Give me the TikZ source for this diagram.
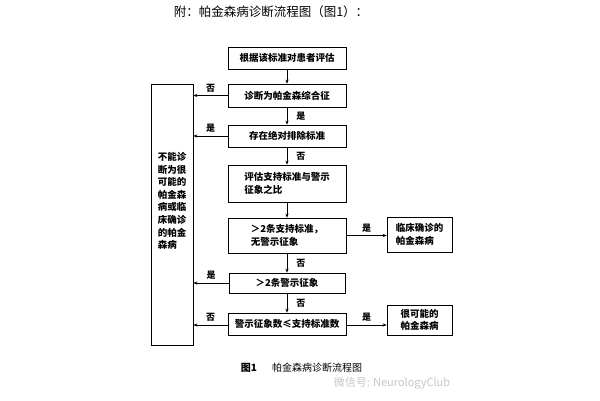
\documentclass[tikz,border=0pt]{standalone}
\usepackage{fontspec}
\newfontfamily\cjk{Noto Sans CJK SC}
\usetikzlibrary{arrows.meta}
\begin{document}
\begin{tikzpicture}[x=1pt,y=-1pt,
  font=\cjk\bfseries\fontsize{9.5}{12.6}\selectfont,
  box/.style={draw, line width=0.7pt, inner sep=0pt, minimum width=118pt, minimum height=22pt, align=left},
  arr/.style={-{Stealth[length=4pt,width=3.2pt]}, line width=0.6pt},
  lab/.style={font=\cjk\bfseries\fontsize{9}{10}\selectfont, inner sep=1pt}]
\useasboundingbox[fill=white] (0,0) rectangle (600,400);
\node[font=\cjk\fontsize{12.5}{14}\selectfont] (title) at (271,12) {附：帕金森病诊断流程图（图1）：};
\node[box] (b1) at (287,58) {根据该标准对患者评估};
\node[box, minimum height=23pt] (b2) at (287,95.5) {诊断为帕金森综合征};
\node[box] (b3) at (287,136) {存在绝对排除标准};
\node[box, minimum height=37pt] (b4) at (287,183.5) {评估支持标准与警示\\征象之比};
\node[box, minimum height=35pt] (b5) at (287,235.5) {＞2条支持标准，\\无警示征象};
\node[box, minimum width=116pt, minimum height=20pt] (b7) at (287,283) {＞2条警示征象};
\node[box] (b8) at (287,324) {警示征象数≤支持标准数};
\node[box, line width=0.8pt, minimum width=42pt, minimum height=261pt] (L) at (172,214.5) {};
\node[align=left, inner sep=0pt] (Lt) at (172,201) {不能诊\\断为很\\可能的\\帕金森\\病或临\\床确诊\\的帕金\\森病};
\node[box, minimum width=65pt, minimum height=35pt] (R1) at (419.5,234.5) {临床确诊的\\帕金森病};
\node[box, minimum width=65pt, minimum height=30pt] (R2) at (419.5,320) {很可能的\\帕金森病};
% vertical arrows
\draw[arr] (b1) -- (b2);
\draw[arr] (b2) -- node[lab, right=8pt] {是} (b3);
\draw[arr] (b3) -- node[lab, right=8pt] {否} (b4);
\draw[arr] (b4) -- (b5);
\draw[arr] (b5) -- node[lab, right=8pt] {否} (b7);
\draw[arr] (b7) -- node[lab, right=8pt] {否} (b8);
% left arrows
\draw[arr] (b2.west) -- node[lab, above=2pt] {否} (b2.west -| L.east);
\draw[arr] (b3.west) -- node[lab, above=2pt] {是} (b3.west -| L.east);
\draw[arr] (b7.west) -- node[lab, above=2pt] {是} (b7.west -| L.east);
\draw[arr] ([yshift=-1pt]b8.west) -- node[lab, above=2pt] {否} ([yshift=-1pt]b8.west -| L.east);
% right arrows
\draw[arr] (b5.east) -- node[lab, above=2pt] {是} (b5.east -| R1.west);
\draw[arr] ([yshift=-1pt]b8.east) -- node[lab, above=2pt] {是} ([yshift=-1pt]b8.east -| R2.west);
% caption
\node[font=\cjk\bfseries\fontsize{10}{12}\selectfont] (cap1) at (249,368) {图1};
\node[font=\cjk\fontsize{10}{12}\selectfont] (cap2) at (317,368) {帕金森病诊断流程图};
\node[font=\cjk\fontsize{11}{12}\selectfont, text=black!22] (wm) at (392,383) {微信号: NeurologyClub};
\end{tikzpicture}
\end{document}
